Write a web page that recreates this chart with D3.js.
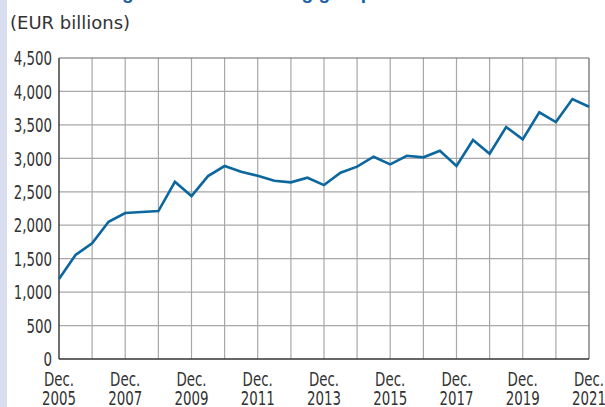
<!DOCTYPE html>
<html>
<head>
<meta charset="utf-8">
<script src="https://cdn.jsdelivr.net/npm/d3@7"></script>
<style>
  html, body { margin: 0; padding: 0; background: #fff; }
  svg { display: block; }
  .tick-y, .tick-x { font-family: "DejaVu Sans", sans-serif; fill: #333; font-size: 20px; }
</style>
</head>
<body>
<svg id="chart" width="605" height="407"></svg>
<script>
// Semi-annual observations, Dec 2005 .. Dec 2021 (EUR billions)
const periods = [
  "2005-12", "2006-06", "2006-12", "2007-06", "2007-12", "2008-06", "2008-12",
  "2009-06", "2009-12", "2010-06", "2010-12", "2011-06", "2011-12", "2012-06",
  "2012-12", "2013-06", "2013-12", "2014-06", "2014-12", "2015-06", "2015-12",
  "2016-06", "2016-12", "2017-06", "2017-12", "2018-06", "2018-12", "2019-06",
  "2019-12", "2020-06", "2020-12", "2021-06", "2021-12"
];
const values = [
  1195, 1555, 1730, 2052, 2182, 2197, 2212,
  2650, 2436, 2735, 2885, 2800, 2740, 2665,
  2641, 2710, 2600, 2785, 2875, 3024, 2910,
  3039, 3015, 3114, 2885, 3274, 3069, 3468,
  3284, 3688, 3543, 3886, 3771
];
const yTicks = [0, 500, 1000, 1500, 2000, 2500, 3000, 3500, 4000, 4500];
const labelYears = [2005, 2007, 2009, 2011, 2013, 2015, 2017, 2019, 2021];

const parse = d3.timeParse("%Y-%m");
const data = periods.map((p, i) => ({ date: parse(p), value: values[i] }));

const svg = d3.select("#chart");
const W = 605, H = 407;
const margin = { top: 58, right: 16, bottom: 48, left: 59 };
const SQ = 0.67;   // horizontal squeeze for the condensed tick font

// pale side strip
svg.append("rect").attr("x", 0).attr("y", 0).attr("width", 7).attr("height", H).attr("fill", "#d8ddef");

// title (cut off at the top edge, as in the source) and unit line
svg.append("text").attr("x", 8).attr("y", -1)
  .style("font-family", "Liberation Sans, Arial, sans-serif").style("font-weight", "bold")
  .style("font-size", "19px").style("fill", "#1a5ca8")
  .text("Assets of large euro area banking groups");
svg.append("text").attr("x", 10).attr("y", 29)
  .style("font-family", "DejaVu Sans, sans-serif").style("font-size", "18px").style("fill", "#333")
  .text("(EUR billions)");

const x = d3.scaleTime()
  .domain([parse("2005-12"), parse("2021-12")])
  .range([margin.left, W - margin.right]);
const y = d3.scaleLinear().domain([0, 4500]).range([H - margin.bottom, margin.top]);

const yearTicks = d3.range(2005, 2022).map((yr) => parse(`${yr}-12`));

// gridlines
svg.append("g").selectAll("line").data(yearTicks.slice(1, -1)).join("line")
  .attr("x1", (d) => x(d)).attr("x2", (d) => x(d))
  .attr("y1", y(4500)).attr("y2", y(0))
  .attr("stroke", "#a8a8a8").attr("stroke-width", 1.2);
svg.append("g").selectAll("line").data(yTicks.slice(1, -1)).join("line")
  .attr("x1", x.range()[0]).attr("x2", x.range()[1])
  .attr("y1", (d) => y(d)).attr("y2", (d) => y(d))
  .attr("stroke", "#a8a8a8").attr("stroke-width", 1.2);

// frame
svg.append("line").attr("x1", x.range()[0]).attr("x2", x.range()[1])
  .attr("y1", y(4500)).attr("y2", y(4500)).attr("stroke", "#666").attr("stroke-width", 1.2);
svg.append("line").attr("x1", x.range()[1]).attr("x2", x.range()[1])
  .attr("y1", y(4500)).attr("y2", y(0)).attr("stroke", "#666").attr("stroke-width", 1.2);
svg.append("line").attr("x1", x.range()[0]).attr("x2", x.range()[1])
  .attr("y1", y(0)).attr("y2", y(0)).attr("stroke", "#333").attr("stroke-width", 1.4);
svg.append("line").attr("x1", x.range()[0]).attr("x2", x.range()[0])
  .attr("y1", y(4500)).attr("y2", y(0)).attr("stroke", "#333").attr("stroke-width", 1.4);

// y labels
svg.append("g").selectAll("text").data(yTicks).join("text")
  .attr("class", "tick-y")
  .attr("transform", (d) => `translate(${margin.left - 7},${y(d)}) scale(${SQ},1)`)
  .attr("dy", "0.36em").attr("text-anchor", "end")
  .text((d) => d3.format(",")(d));

// x labels
const xl = svg.append("g").selectAll("g").data(labelYears).join("g")
  .attr("transform", (d) => `translate(${x(parse(`${d}-12`))},0) scale(${SQ},1)`);
xl.append("text").attr("class", "tick-x").attr("text-anchor", "middle").attr("y", 386.5).text("Dec.");
xl.append("text").attr("class", "tick-x").attr("text-anchor", "middle").attr("y", 405).text((d) => d);

// series
svg.append("path").datum(data)
  .attr("fill", "none").attr("stroke", "#0b679e").attr("stroke-width", 2.6)
  .attr("stroke-linejoin", "miter")
  .attr("d", d3.line().x((d) => x(d.date)).y((d) => y(d.value)));
</script>
</body>
</html>
